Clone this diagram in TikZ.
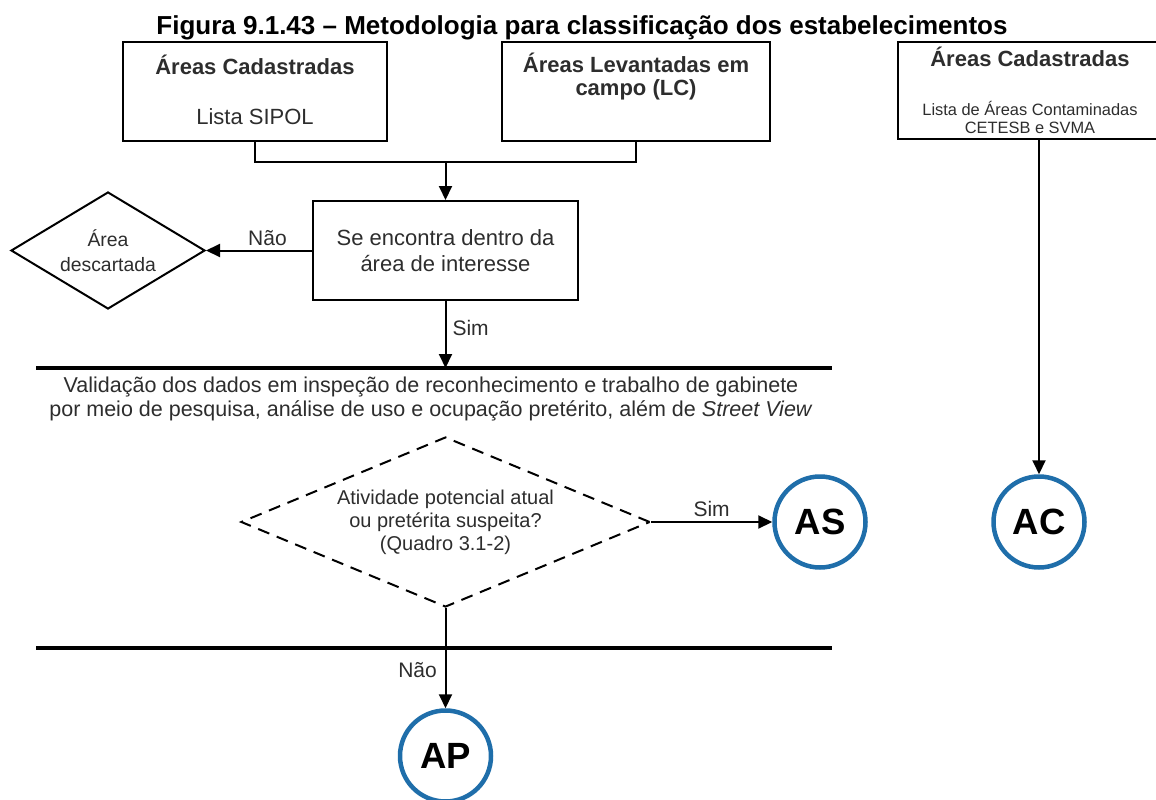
\documentclass[tikz,border=0pt]{standalone}
\usepackage{fontspec}
\setmainfont{Liberation Sans}
\usetikzlibrary{shapes.geometric,arrows.meta}
\definecolor{cblue}{RGB}{31,110,170}
\definecolor{tgray}{RGB}{45,45,45}
\begin{document}
\begin{tikzpicture}[x=1pt,y=-1pt,
  box/.style={draw, line width=2pt, inner sep=0pt},
  conn/.style={line width=2pt},
  arr/.style={line width=2pt, -{Triangle[length=14pt,width=13pt]}},
  heavy/.style={line width=4pt},
  circ/.style={circle, draw=cblue, line width=4.5pt, minimum size=91pt, inner sep=0pt,
    font=\fontsize{36.5}{40}\selectfont\bfseries},
  lbl/.style={text=tgray, inner sep=0pt, font=\fontsize{21}{24}\selectfont},
  rlbl/.style={text=tgray, inner sep=0pt, font=\fontsize{22}{26}\selectfont},
  blbl/.style={text=tgray, inner sep=0pt, font=\fontsize{22}{26}\selectfont\bfseries},
  slbl/.style={text=tgray, inner sep=0pt, font=\fontsize{16.4}{20}\selectfont},
]
\useasboundingbox (0,0) rectangle (1156,800);

% title
\node[anchor=base, inner sep=0pt, font=\fontsize{26}{30}\selectfont\bfseries] (title) at (582,35)
  {Figura 9.1.43 – Metodologia para classificação dos estabelecimentos};

% top boxes
\node[box, minimum width=264pt, minimum height=99pt] (b1) at (255,91.5) {};
\node[blbl] (b1a) at (255,65) {Áreas Cadastradas};
\node[rlbl] (b1b) at (255,117) {Lista SIPOL};

\node[box, minimum width=268pt, minimum height=99pt] (b2) at (636,91.5) {};
\node[blbl] (b2a) at (636,63) {Áreas Levantadas em};
\node[blbl] (b2b) at (636,90) {campo (LC)};

\node[box, minimum width=259pt, minimum height=97pt] (b3) at (1027.5,90.5) {};
\node[blbl] (b3a) at (1030,57) {Áreas Cadastradas};
\node[slbl] (b3b) at (1030,108) {Lista de Áreas Contaminadas};
\node[slbl] (b3c) at (1030,128) {CETESB e SVMA};

% merge
\coordinate (j) at (445.5,162);
\draw[conn] (b1.south) |- (j) -| (b2.south);

% decision box
\node[box, minimum width=265pt, minimum height=99pt, align=center, text=tgray,
  font=\fontsize{22}{26}\selectfont] (se) at (445.5,250.5)
  {Se encontra dentro da\\área de interesse};
\draw[arr] (j) -- (se.north);

\node[diamond, draw, line width=2pt, aspect=1.66, minimum width=194pt, minimum height=117pt,
  inner sep=0pt, align=center, text=tgray, font=\fontsize{19.4}{25}\selectfont] (desc) at (108,250.5)
  {Área\\descartada};
\draw[arr] (se.west) -- (desc.east) node[pos=0.42, above=4pt, lbl] (nao1) {Não};

% first heavy line
\coordinate (l1a) at (36,368);
\coordinate (l1b) at (832,368);
\draw[heavy] (l1a) -- (l1b);
\draw[arr] (se.south) -- (se.south |- l1a) node[pos=0.4, right=6pt, lbl] (sim1) {Sim};

\node[align=center, text=tgray, inner sep=0pt, font=\fontsize{21.5}{24}\selectfont] (valid) at (431,398.5)
  {Validação dos dados em inspeção de reconhecimento e trabalho de gabinete\\
   por meio de pesquisa, análise de uso e ocupação pretérito, além de \textit{Street View}};

% dashed decision
\node[diamond, draw, line width=2pt, dash pattern=on 12pt off 8pt, aspect=2.4,
  minimum width=409pt, minimum height=170pt, inner sep=0pt,
  align=center, text=tgray, font=\fontsize{20}{23}\selectfont] (dec) at (445.5,522)
  {Atividade potencial atual\\ou pretérita suspeita?\\(Quadro 3.1-2)};

\node[circ] (AS) at (820,522) {AS};
\node[circ] (AC) at (1039,522) {AC};
\node[circ] (AP) at (445.5,756) {AP};

\draw[arr] (dec.east) -- (AS.west) node[midway, above=4pt, lbl] (sim2) {Sim};

% second heavy line
\coordinate (l2a) at (36,648);
\coordinate (l2b) at (832,648);
\draw[heavy] (l2a) -- (l2b);
\draw[arr] (dec.south) -- (AP.north);
\node[lbl, anchor=east] (nao2) at (437,670) {Não};

\draw[arr] (b3.south -| AC) -- (AC.north);
\end{tikzpicture}
\end{document}
